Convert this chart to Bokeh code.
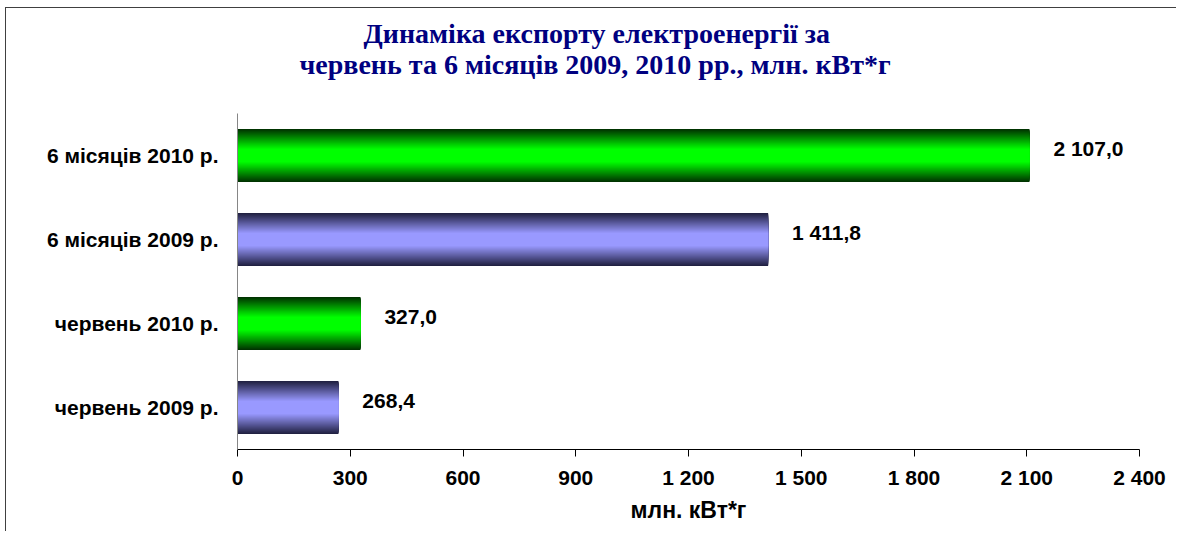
import numpy as np
from bokeh.plotting import figure
from bokeh.models import ColumnDataSource, Range1d, FactorRange, FixedTicker, Title
from bokeh.transform import dodge
from bokeh.core.properties import value
from bokeh.embed import file_html
from bokeh.resources import INLINE

# ---------------- data ----------------
categories = ["червень 2009 р.", "червень 2010 р.", "6 місяців 2009 р.", "6 місяців 2010 р."]
values = [268.4, 327.0, 1411.8, 2107.0]
tick_values = [0, 300, 600, 900, 1200, 1500, 1800, 2100, 2400]
tick_labels = ["0", "300", "600", "900", "1 200", "1 500", "1 800", "2 100", "2 400"]
title_lines = ["Динаміка експорту електроенергії за",
               "червень та 6 місяців 2009, 2010 рр., млн. кВт*г"]
x_title = "млн. кВт*г"

# ---------------- styles ----------------
GREEN_C, GREEN_E = (0, 255, 0), (0, 50, 0)
PURP_C, PURP_E = (153, 153, 255), (32, 32, 64)

def fmt(v):
    return f"{v:,.1f}".replace(",", " ").replace(".", ",")

W, H = 1171, 524
p = figure(width=W, height=H,
           x_range=Range1d(0, 2400),
           y_range=FactorRange(factors=categories, range_padding=0),
           output_backend="svg", toolbar_location=None,
           min_border_left=231, min_border_right=38,
           min_border_top=105, min_border_bottom=83)
p.styles = {"border-top": "1px solid #404040", "border-left": "1px solid #404040",
            "margin-left": "5px", "margin-top": "7px"}
p.outline_line_color = None
p.xgrid.grid_line_color = None
p.ygrid.grid_line_color = None
p.background_fill_color = "white"
p.border_fill_color = "white"

# gradient bars drawn as nested, shrinking bars (edge colour outside, centre colour inside)
bar_h = 0.63
is_green = ["2010" in c for c in categories]
M = 40
for k in range(M + 1):
    d = 1.0 - k * (0.75 / M)          # half-height fraction from 1 down to 0.25
    s = (d - 0.25) / 0.75
    cols = []
    for g in is_green:
        c, e = (GREEN_C, GREEN_E) if g else (PURP_C, PURP_E)
        rgb = tuple(int(round(c[i] + (e[i] - c[i]) * s)) for i in range(3))
        cols.append("#%02x%02x%02x" % rgb)
    src = ColumnDataSource(dict(cat=categories, val=values, col=cols))
    p.hbar(y="cat", left=0, right="val", height=bar_h * d,
           fill_color="col", line_color=None, source=src)

# value labels
lsrc = ColumnDataSource(dict(cat=categories, val=values, lab=[fmt(v) for v in values]))
p.text(x="val", y=dodge("cat", 0.08, range=p.y_range), text="lab", source=lsrc,
       x_offset=24, text_baseline="middle", text_align="left",
       text_font=value("Liberation Sans"), text_font_style="bold",
       text_font_size="21px", text_color="black")

# x axis
xa = p.xaxis[0]
xa.ticker = FixedTicker(ticks=tick_values)
xa.major_label_overrides = {t: l for t, l in zip(tick_values, tick_labels)}
xa.minor_tick_line_color = None
xa.major_tick_out = 7
xa.major_tick_in = 0
xa.axis_line_color = "black"
xa.major_tick_line_color = "black"
xa.major_label_text_font = "Liberation Sans"
xa.major_label_text_font_style = "bold"
xa.major_label_text_font_size = "21px"
xa.major_label_text_color = "black"
xa.major_label_standoff = 9
xa.axis_label = x_title
xa.axis_label_text_font = "Liberation Sans"
xa.axis_label_text_font_style = "bold"
xa.axis_label_text_font_size = "23px"
xa.axis_label_text_color = "black"
xa.axis_label_standoff = 5

# y axis
ya = p.yaxis[0]
ya.axis_line_color = "#868686"
ya.major_tick_line_color = None
ya.minor_tick_line_color = None
ya.major_label_text_font = "Liberation Sans"
ya.major_label_text_font_style = "bold"
ya.major_label_text_font_size = "21px"
ya.major_label_text_color = "black"
ya.major_label_standoff = 13

# title: two lines, the lower line is added first (closest to the frame)
for line, off, so in zip(reversed(title_lines), [62, 126], [68, -72]):
    p.add_layout(Title(text=line, align="left", offset=off, standoff=so,
                       text_font="Liberation Serif", text_font_style="bold",
                       text_font_size="28px", text_color="#000080"), "above")

open("out.html", "w").write(file_html(p, INLINE))
